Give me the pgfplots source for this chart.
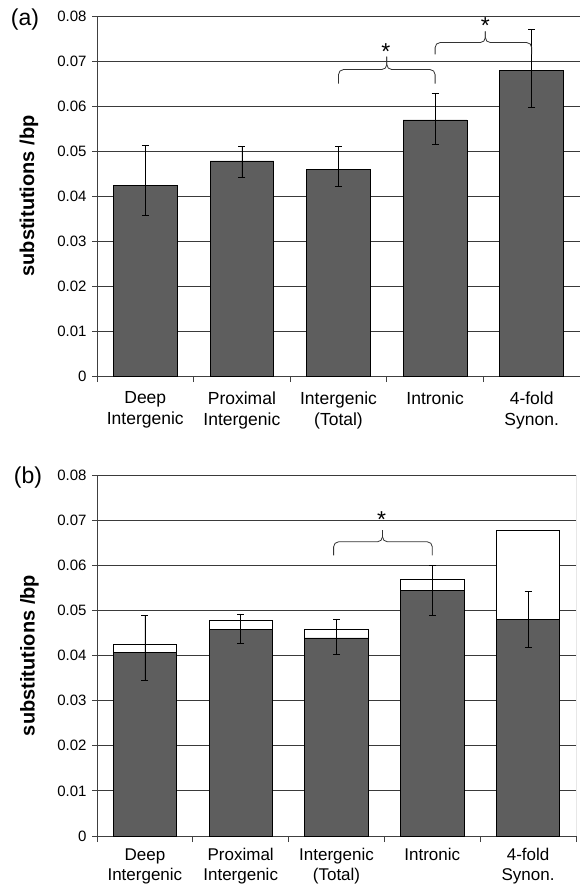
\documentclass[border=0pt]{standalone}
\usepackage{fontspec}
\setmainfont{Liberation Sans}
\usepackage{pgfplots}
\pgfplotsset{compat=1.18}

\definecolor{bardark}{HTML}{5E5E5E}
\definecolor{gridc}{HTML}{3A3A3A}

\pgfplotsset{
  panel/.style={
    scale only axis,
    anchor=south west,
    xmin=-0.5, xmax=4.5,
    ymin=0, ymax=0.08,
    scaled y ticks=false,
    ytick={0,0.01,0.02,0.03,0.04,0.05,0.06,0.07,0.08},
    yticklabels={0,0.01,0.02,0.03,0.04,0.05,0.06,0.07,0.08},
    /pgf/number format/assume math mode=true,
    yticklabel style={font=\fontsize{15}{18}\selectfont, xshift=-2pt},
    xtick={0,1,2,3,4},
    xticklabels={Deep\\Intergenic, Proximal\\Intergenic, Intergenic\\(Total), Intronic, 4-fold\\Synon.},
    xticklabel style={align=center, anchor=north, font=\fontsize{17.5}{21}\selectfont, yshift=-7pt},
    major x tick style={draw=none},
    minor xtick={-0.5,0.5,1.5,2.5,3.5,4.5},
    minor x tick style={black!75, line width=0.8pt},
    y tick style={black!75, line width=0.8pt},
    tick align=outside,
    major tick length=5pt,
    minor tick length=6pt,
    axis x line*=bottom,
    axis y line*=left,
    axis line style={-, black!75, line width=0.8pt},
    ymajorgrids,
    grid style={gridc, line width=0.9pt},
    ylabel={\bfseries substitutions /bp},
    ylabel style={at={(axis description cs:-0.141,0.5)}, anchor=center, font=\fontsize{20}{24}\selectfont},
    ybar, bar width=0.66, bar shift=0pt,
  },
  errs/.style={
    error bars/y dir=both, error bars/y explicit,
    error bars/error mark=-,
    error bars/error bar style={black, line width=0.8pt},
    error bars/error mark options={black, line width=0.8pt, mark size=3.5pt, rotate=90},
  },
}

\newcommand{\sigbrace}[6]{% x1, x2, xmid, yend, yh, ytip
  \draw[black!80, line width=0.8pt, rounded corners=5pt]
    (axis cs:#1,#4) -- (axis cs:#1,#5) -- (axis cs:#3,#5) -- (axis cs:#3,#6);
  \draw[black!80, line width=0.8pt, rounded corners=5pt]
    (axis cs:#2,#4) -- (axis cs:#2,#5) -- (axis cs:#3,#5) -- (axis cs:#3,#6);
}

\begin{document}
\begin{tikzpicture}
\useasboundingbox (0pt,0pt) rectangle (580pt,-886pt);

% ---------------- panel (a) ----------------
\begin{axis}[panel, at={(97pt,-376pt)}, width=483pt, height=360pt]
\addplot[fill=bardark, draw=black, line width=0.8pt, errs] coordinates {
  (0,0.0423) += (0,0.0090) -= (0,0.0065)
  (1,0.0478) += (0,0.0032) -= (0,0.0037)
  (2,0.0459) += (0,0.0051) -= (0,0.0038)
  (3,0.0569) += (0,0.0058) -= (0,0.0055)
  (4,0.0679) += (0,0.0091) -= (0,0.0083)
};
\sigbrace{2}{3}{2.5}{0.0650}{0.0681}{0.0710}
\sigbrace{3}{4}{3.52}{0.0715}{0.0741}{0.0766}
\node[font=\fontsize{23}{23}\selectfont] at (axis cs:2.49,0.0722) {*};
\node[font=\fontsize{23}{23}\selectfont] at (axis cs:3.52,0.0778) {*};
\end{axis}

% ---------------- panel (b) ----------------
\begin{axis}[panel, at={(97pt,-836pt)}, width=479pt, height=361pt,
  xticklabel style={font=\fontsize{17}{20}\selectfont, yshift=3pt}]
\addplot[fill=white, draw=black, line width=0.8pt] coordinates {
  (0,0.0424) (1,0.0478) (2,0.0458) (3,0.0569) (4,0.0677)
};
\addplot[fill=bardark, draw=black, line width=0.8pt, errs] coordinates {
  (0,0.0406) += (0,0.0082) -= (0,0.0061)
  (1,0.0458) += (0,0.0034) -= (0,0.0031)
  (2,0.0439) += (0,0.0042) -= (0,0.0037)
  (3,0.0545) += (0,0.0054) -= (0,0.0056)
  (4,0.0480) += (0,0.0062) -= (0,0.0061)
};
\sigbrace{1.97}{3}{2.48}{0.0622}{0.0652}{0.0678}
\node[font=\fontsize{23}{23}\selectfont] at (axis cs:2.47,0.0702) {*};
\draw[black!75, line width=0.8pt] (rel axis cs:1,0) -- (rel axis cs:1,1);
\end{axis}

\node[font=\fontsize{23}{23}\selectfont] at (25pt,-20pt) {(a)};
\node[font=\fontsize{23}{23}\selectfont] at (28pt,-478pt) {(b)};
\end{tikzpicture}
\end{document}
